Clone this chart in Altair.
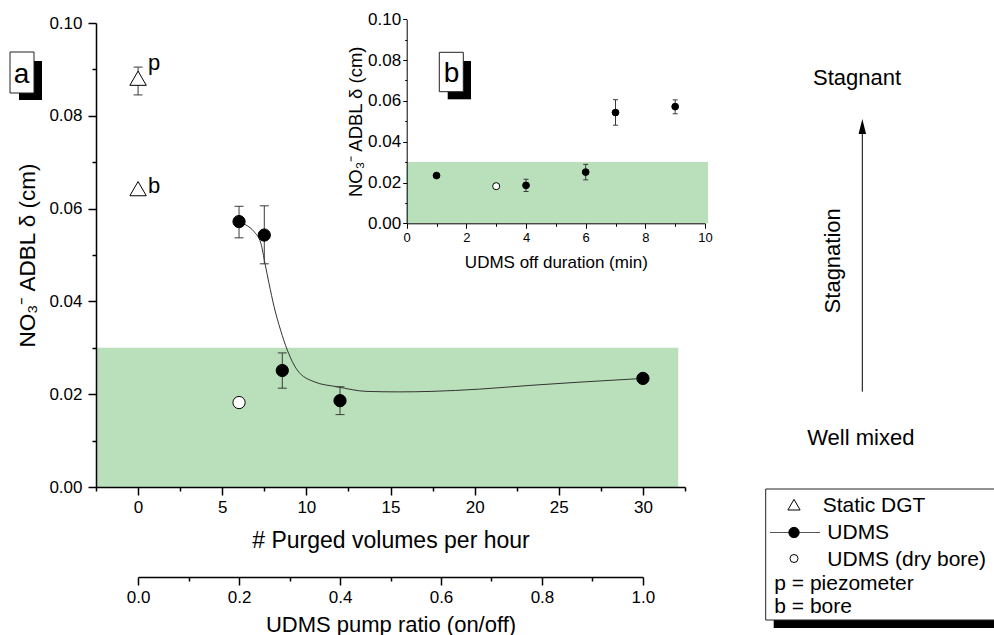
import altair as alt
import pandas as pd

# ---------------------------------------------------------------- data
# UDMS runs: purge rate, the matching pump-off duration, ADBL thickness and error bars
purged_volumes = [6, 7.5, 8.57, 12, 30]
off_duration = [9, 7, 6, 4, 1]
udms_delta = [0.0572, 0.0543, 0.0251, 0.0186, 0.0234]
udms_err_lo = [0.0537, 0.0481, 0.0213, 0.0156, None]
udms_err_hi = [0.0605, 0.0606, 0.0289, 0.0216, None]

# UDMS in the dry bore
dry_purged = [6]
dry_off = [3]
dry_delta = [0.0182]

# static DGT deployments (p = piezometer, b = bore)
dgt_x = [0, 0]
dgt_delta = [0.0881, 0.0643]
dgt_site = ["p", "b"]
dgt_err_lo = [0.0845, None]
dgt_err_hi = [0.0905, None]

# fitted trend through the UDMS runs
fit_x = [6.0, 6.4, 6.9, 7.3, 7.54, 7.78, 8.08, 8.47, 8.87, 9.46, 10.45,
         11.84, 13.6, 15.5, 17.4, 20.3, 23.3, 26.25, 30.0]
fit_delta = [0.0572, 0.0565, 0.0550, 0.0525, 0.0482, 0.0439, 0.0389, 0.0338,
             0.0295, 0.0252, 0.0227, 0.0216, 0.0206, 0.0205, 0.0206, 0.0211,
             0.0219, 0.0226, 0.0234]

# shaded well-mixed band
band_delta = [0.0, 0.03]
band_purged = [-2.5, 32.1]
band_off = [0.0, 10.1]

# axis ticks
purged_ticks = [0, 5, 10, 15, 20, 25, 30]
purged_minor = [-2.5, 2.5, 7.5, 12.5, 17.5, 22.5, 27.5, 32.5]
ratio_ticks = [0.0, 0.2, 0.4, 0.6, 0.8, 1.0]
ratio_minor = [0.1, 0.3, 0.5, 0.7, 0.9]
delta_ticks = [0.0, 0.02, 0.04, 0.06, 0.08, 0.10]
delta_minor = [0.01, 0.03, 0.05, 0.07, 0.09]
off_ticks = [0, 2, 4, 6, 8, 10]
off_minor = [1, 3, 5, 7, 9]

# ---------------------------------------------------------------- layout
FONT = "Liberation Sans"
GREEN = "#b9e0ba"
ERR = "#3a3a3a"
W, H = 589, 464
PAD = {"left": 96, "top": 23, "right": 309, "bottom": 148}
X_DOM = [-2.5, 32.5]
Y_DOM = [0.0, 0.10]
Y_TITLE = "NO₃⁻ ADBL δ (cm)"


def px(v):
    """Pixel position of a purge-rate value on the main x scale."""
    return (v - X_DOM[0]) / (X_DOM[1] - X_DOM[0]) * W


# inset (panel b) placement inside the main plot area
INSET_X = [310.7, 609.0]
INSET_Y = [200.3, -3.7]

xs = alt.Scale(domain=X_DOM, nice=False, zero=False)
ys = alt.Scale(domain=Y_DOM, nice=False, zero=False)
rs = alt.Scale(domain=[0, 1], range=[px(0), px(30)], nice=False, zero=False)
ixs = alt.Scale(domain=[0, 10], range=INSET_X, nice=False, zero=False)
iys = alt.Scale(domain=Y_DOM, range=INSET_Y, nice=False, zero=False)

common = dict(labelFlush=False, labelOverlap=False, zindex=1, grid=False)
minor = dict(domain=False, labels=False, title=None, **common)

ax_x = alt.Axis(orient="bottom", values=purged_ticks, format="d", tickSize=8,
                tickWidth=1.5, domainWidth=1.5, labelFontSize=17, labelPadding=4,
                title="# Purged volumes per hour", titleFontSize=23,
                titlePadding=14, **common)
ax_x_minor = alt.Axis(orient="bottom", values=purged_minor, tickSize=4,
                      tickWidth=1.5, **minor)
ax_y = alt.Axis(orient="left", values=delta_ticks, format=".2f", tickSize=8,
                tickWidth=1.5, domainWidth=1.5, labelFontSize=17, labelPadding=6,
                title=Y_TITLE, titleFontSize=22.5, titlePadding=9, **common)
ax_y_minor = alt.Axis(orient="left", values=delta_minor, tickSize=4,
                      tickWidth=1.5, **minor)
ax_r = alt.Axis(orient="bottom", offset=90, values=ratio_ticks, format=".1f",
                tickSize=8, tickWidth=1.5, domainWidth=1.5, labelFontSize=17,
                labelPadding=4, title="UDMS pump ratio (on/off)",
                titleFontSize=22, titlePadding=9, **common)
ax_r_minor = alt.Axis(orient="bottom", offset=90, values=ratio_minor,
                      tickSize=4, tickWidth=1.5, **minor)
ax_ix = alt.Axis(orient="bottom", offset=INSET_Y[0] - H, values=off_ticks,
                 format="d", tickSize=5, labelFontSize=13, labelPadding=3,
                 title="UDMS off duration (min)", titleFontSize=17,
                 titlePadding=10, **common)
ax_ix_minor = alt.Axis(orient="bottom", offset=INSET_Y[0] - H,
                       values=off_minor, tickSize=3, **minor)
ax_iy = alt.Axis(orient="left", offset=-INSET_X[0], values=delta_ticks,
                 format=".2f", tickSize=4, labelFontSize=17, labelPadding=2,
                 title=Y_TITLE, titleFontSize=18.5, titlePadding=2, **common)
ax_iy_minor = alt.Axis(orient="left", offset=-INSET_X[0], values=delta_minor,
                       tickSize=2, **minor)


def guide(channel, scale, axis, values):
    """Invisible layer that carries one axis."""
    df = pd.DataFrame({"v": values})
    enc = (alt.X if channel == "x" else alt.Y)("v:Q", scale=scale, axis=axis)
    return alt.Chart(df).mark_point(opacity=0).encode(**{channel: enc})


udms = pd.DataFrame({"purged": purged_volumes, "off": off_duration,
                     "delta": udms_delta, "lo": udms_err_lo, "hi": udms_err_hi})
udms_err = udms.dropna()
dry = pd.DataFrame({"purged": dry_purged, "off": dry_off, "delta": dry_delta})
dgt = pd.DataFrame({"x": dgt_x, "delta": dgt_delta, "site": dgt_site,
                    "lo": dgt_err_lo, "hi": dgt_err_hi})
dgt_err = dgt.dropna()
fit = pd.DataFrame({"purged": fit_x, "delta": fit_delta})


def band(xvals, xscale, yscale):
    df = pd.DataFrame({"x0": [xvals[0]], "x1": [xvals[1]],
                       "y0": [band_delta[0]], "y1": [band_delta[1]]})
    return alt.Chart(df).mark_rect(color=GREEN).encode(
        x=alt.X("x0:Q", scale=xscale, axis=None), x2="x1:Q",
        y=alt.Y("y0:Q", scale=yscale, axis=None), y2="y1:Q")


def errorbars(df, xfield, xscale, yscale, cap):
    rule = alt.Chart(df).mark_rule(color=ERR, strokeWidth=1).encode(
        x=alt.X(f"{xfield}:Q", scale=xscale, axis=None),
        y=alt.Y("lo:Q", scale=yscale, axis=None), y2="hi:Q")
    caps = alt.Chart(df).transform_fold(["lo", "hi"], as_=["end", "val"]).mark_tick(
        orient="horizontal", size=cap, thickness=1, color=ERR, opacity=1).encode(
        x=alt.X(f"{xfield}:Q", scale=xscale, axis=None),
        y=alt.Y("val:Q", scale=yscale, axis=None))
    return [rule, caps]


def dots(df, xfield, xscale, yscale, size, fill):
    return alt.Chart(df).mark_point(shape="circle", filled=True, fill=fill,
                                    stroke="black", strokeWidth=1, size=size,
                                    opacity=1).encode(
        x=alt.X(f"{xfield}:Q", scale=xscale, axis=None),
        y=alt.Y("delta:Q", scale=yscale, axis=None))


# ---------------------------------------------------------------- panel a
main_layers = [band(band_purged, xs, ys)]
main_layers.append(alt.Chart(fit).mark_line(color="#333333", strokeWidth=1,
                                            interpolate="monotone").encode(
    x=alt.X("purged:Q", scale=xs, axis=None),
    y=alt.Y("delta:Q", scale=ys, axis=None)))
main_layers += errorbars(udms_err, "purged", xs, ys, 9)
main_layers += errorbars(dgt_err, "x", xs, ys, 9)
main_layers.append(alt.Chart(dgt).mark_point(shape="triangle-up", filled=True,
                                             fill="white", stroke="black",
                                             strokeWidth=1, size=270,
                                             opacity=1).encode(
    x=alt.X("x:Q", scale=xs, axis=None),
    y=alt.Y("delta:Q", scale=ys, axis=None)))
for site, dy in (("p", -8), ("b", 4)):
    main_layers.append(alt.Chart(dgt).transform_filter(alt.datum.site == site).mark_text(
        align="left", baseline="alphabetic", dx=10, dy=dy, fontSize=22,
        font=FONT, color="black").encode(
        x=alt.X("x:Q", scale=xs, axis=None),
        y=alt.Y("delta:Q", scale=ys, axis=None), text="site:N"))
main_layers.append(dots(udms, "purged", xs, ys, 150, "black"))
main_layers.append(dots(dry, "purged", xs, ys, 150, "white"))

# ---------------------------------------------------------------- panel b (inset)
inset_layers = [band(band_off, ixs, iys)]
inset_layers += errorbars(udms_err, "off", ixs, iys, 5)
inset_layers.append(dots(udms, "off", ixs, iys, 46, "black"))
inset_layers.append(dots(dry, "off", ixs, iys, 50, "white"))

# ---------------------------------------------------------------- axes
guides = [
    guide("x", xs, ax_x, purged_ticks), guide("x", xs, ax_x_minor, purged_minor),
    guide("y", ys, ax_y, delta_ticks), guide("y", ys, ax_y_minor, delta_minor),
    guide("x", rs, ax_r, ratio_ticks), guide("x", rs, ax_r_minor, ratio_minor),
    guide("x", ixs, ax_ix, off_ticks), guide("x", ixs, ax_ix_minor, off_minor),
    guide("y", iys, ax_iy, delta_ticks), guide("y", iys, ax_iy_minor, delta_minor),
]


# ---------------------------------------------------------------- annotations
def box(x0, x1, y0, y1, fill, stroke=None):
    kw = dict(fill=fill)
    if stroke:
        kw.update(stroke=stroke, strokeWidth=1)
    return alt.Chart(pd.DataFrame({"k": [0]})).mark_rect(**kw).encode(
        x=alt.value(x0), x2=alt.value(x1), y=alt.value(y0), y2=alt.value(y1))


def note(text, x, y, size=22, align="center", baseline="alphabetic", angle=0):
    return alt.Chart(pd.DataFrame({"t": [text]})).mark_text(
        align=align, baseline=baseline, fontSize=size, font=FONT,
        color="black", angle=angle).encode(
        x=alt.value(x), y=alt.value(y), text="t:N")


def symbol(x, y, shape, size, fill):
    return alt.Chart(pd.DataFrame({"k": [0]})).mark_point(
        shape=shape, filled=True, fill=fill, stroke="black", strokeWidth=1,
        size=size, opacity=1).encode(x=alt.value(x), y=alt.value(y))


panel_tags = [
    box(-77, -54, 38, 77, "black"), box(-86, -62, 29, 70, "white", "#222222"),
    note("a", -74.5, 60, size=28),
    box(351.7, 375, 38, 76.3, "black"), box(343.3, 367.3, 29.3, 68.7, "white", "#222222"),
    note("b", 355.5, 59, size=28),
]

stagnation = [
    note("Stagnant", 761, 62),
    note("Stagnation", 744, 237.8, angle=270),
    note("Well mixed", 764.8, 422),
    alt.Chart(pd.DataFrame({"k": [0]})).mark_rule(color="black", strokeWidth=1).encode(
        x=alt.value(766.3), y=alt.value(368.7), y2=alt.value(105)),
    alt.Chart(pd.DataFrame({"k": [0]})).mark_point(
        shape="M0,-1L0.5,1L-0.5,1Z", filled=True, color="black", size=225,
        opacity=1).encode(x=alt.value(766.3), y=alt.value(103.5)),
]

legend = [
    box(677.7, 930, 474, 605, "black"),
    box(669.7, 930, 466, 597, "white", "#222222"),
    symbol(698, 481.7, "triangle-up", 150, "white"),
    note("Static DGT", 726.7, 489.3, size=21, align="left"),
    alt.Chart(pd.DataFrame({"k": [0]})).mark_rule(color="#555555", strokeWidth=1).encode(
        x=alt.value(674), x2=alt.value(724), y=alt.value(509.5)),
    symbol(698, 509.5, "circle", 107, "black"),
    note("UDMS", 731.3, 516, size=21, align="left"),
    symbol(698, 535.5, "circle", 64, "white"),
    note("UDMS (dry bore)", 731.3, 542.7, size=21, align="left"),
    note("p = piezometer", 678.3, 567, size=21, align="left"),
    note("b = bore", 678.3, 590.3, size=21, align="left"),
]

chart = alt.layer(
    *main_layers, *inset_layers, *guides, *panel_tags, *stagnation, *legend
).resolve_scale(
    x="independent", y="independent"
).properties(
    width=W, height=H, padding=PAD,
    autosize=alt.AutoSizeParams(type="none"), background="white",
).configure_view(
    stroke=None
).configure_axis(
    labelFont=FONT, titleFont=FONT, labelColor="black", titleColor="black",
    domainColor="black", tickColor="black", titleFontWeight="normal",
)

chart.save("out.html", embed_options={"renderer": "svg", "actions": False})
